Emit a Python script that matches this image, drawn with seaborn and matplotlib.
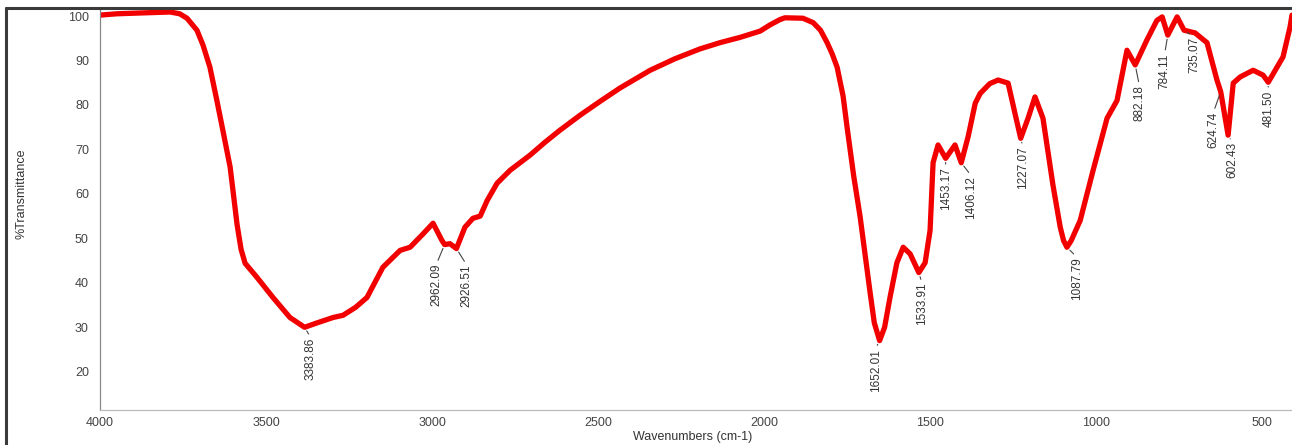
import matplotlib
matplotlib.use("Agg")
import matplotlib.pyplot as plt
import seaborn as sns
import pandas as pd
from matplotlib.lines import Line2D
from matplotlib.ticker import MultipleLocator

# FT-IR spectrum (wavenumber in cm-1, % transmittance)
wavenumber = [4000, 3949, 3870, 3789, 3760, 3738, 3708, 3690, 3669, 3648, 3630, 3608,
              3587, 3575, 3563, 3527, 3479, 3428, 3400, 3383.86, 3346, 3298, 3268, 3230,
              3196, 3148, 3096, 3066, 3027, 2997, 2970, 2962.09, 2946, 2926.51, 2901,
              2877, 2855, 2834, 2804, 2765, 2705, 2660, 2615, 2554, 2494, 2434, 2343,
              2268, 2193, 2133, 2072, 2012, 1982, 1952, 1937, 1883, 1852, 1830, 1810,
              1795, 1780, 1762, 1750, 1730, 1711, 1681, 1668, 1652.01, 1637, 1620,
              1600, 1581, 1560, 1533.91, 1515, 1500, 1491, 1476, 1453.17, 1425, 1406.12,
              1385, 1364, 1349, 1320, 1295, 1265, 1244, 1227.07, 1205, 1184, 1160,
              1130, 1108, 1098, 1087.79, 1075, 1048, 1009, 967, 937, 907, 882.18, 847,
              817, 801, 784.11, 756, 735.07, 702, 666, 636, 624.74, 602.43, 587, 566,
              527, 497, 481.50, 455, 437, 416, 410]
transmittance = [100.2, 100.5, 100.7, 100.9, 100.5, 99.5, 96.8, 93.5, 88.5, 81, 74.3, 66,
                 53, 47.5, 44.4, 41.2, 36.7, 32.2, 30.8, 30.0, 31, 32.2, 32.7, 34.5,
                 36.7, 43.5, 47.3, 48, 51, 53.4, 49.5, 48.6, 48.8, 47.7, 52.5,
                 54.5, 55, 58.5, 62.4, 65.3, 68.7, 71.6, 74.3, 77.7, 80.8, 83.8, 87.8,
                 90.4, 92.6, 94, 95.2, 96.6, 98, 99.2, 99.6, 99.5, 98.5, 96.8, 94,
                 91.5, 88.5, 82, 75, 64, 55, 38, 31, 27, 30, 37,
                 44.5, 48, 46.5, 42.3, 44.5, 51.8, 67, 71, 68, 71, 67,
                 73, 80.4, 82.6, 84.8, 85.6, 84.9, 78, 72.5, 77, 81.8, 77,
                 62, 52.5, 49.5, 48, 49.5, 54, 65.3, 77, 81, 92.3, 89, 94.6,
                 99, 99.8, 95.7, 99.8, 96.8, 96.2, 94, 85.6, 83, 73.2, 84.9, 86.3,
                 87.8, 86.7, 85.1, 88.5, 90.8, 97.5, 100.2]

# Labelled peaks
peak_labels = ["3383.86", "2962.09", "2926.51", "1652.01", "1533.91", "1453.17",
               "1406.12", "1227.07", "1087.79", "882.18", "784.11", "735.07",
               "624.74", "602.43", "481.50"]
# label placement (pixel offsets of the text from the peak)
label_dx = [6, -8, 10, -4, 3, 0, 10, 2, 10, 4, -3, 10, -7, 4, 0]
label_dy = [-10, -19, -16, -8, -10, -9, -13, -8, -10, -20, -18, -7, -20, -7, -8]

xticks = [4000, 3500, 3000, 2500, 2000, 1500, 1000, 500]
yticks = [20, 30, 40, 50, 60, 70, 80, 90, 100]

sns.set_style("white")
plt.rcParams["font.family"] = ["Liberation Sans", "DejaVu Sans"]

fig = plt.figure(figsize=(12.92, 4.45), dpi=100)
ax = fig.add_axes([100 / 1292, 35 / 445, 1192 / 1292, 400 / 445])

df = pd.DataFrame({"wn": wavenumber, "T": transmittance})
sns.lineplot(data=df, x="wn", y="T", sort=False, estimator=None, ax=ax,
             color="#f20000", linewidth=3.8, solid_joinstyle="round",
             solid_capstyle="round")

ax.set_xlim(4000, 410)
ax.set_ylim(11.4, 101.35)

ax.set_xticks(xticks)
ax.set_yticks(yticks)
ax.set_xticklabels([str(v) for v in xticks])
ax.set_yticklabels([str(v) for v in yticks])
ax.xaxis.set_minor_locator(MultipleLocator(100))
ax.yaxis.set_minor_locator(MultipleLocator(2))

ax.tick_params(axis="both", which="major", length=4, width=0.8, color="#777777",
               labelsize=9, labelcolor="#444444")
ax.tick_params(axis="both", which="minor", length=2, width=0.6, color="#999999")
ax.tick_params(axis="x", which="both", direction="inout", pad=3)
ax.tick_params(axis="y", which="both", direction="out", pad=4)

for side in ("top", "right"):
    ax.spines[side].set_visible(False)
ax.spines["left"].set_color("#888888")
ax.spines["bottom"].set_color("#bbbbbb")
ax.spines["left"].set_linewidth(0.9)
ax.spines["bottom"].set_linewidth(0.9)

ax.set_xlabel("Wavenumbers (cm-1)", fontsize=9, color="#333333")
ax.set_ylabel("%Transmittance", fontsize=9, color="#333333")
ax.xaxis.set_label_coords(0.497, -0.052)
ax.yaxis.set_label_coords(-0.0605, 0.54)

lookup = dict(zip(wavenumber, transmittance))
for lab, dx, dy in zip(peak_labels, label_dx, label_dy):
    wn = float(lab)
    t = lookup[wn]
    ax.annotate(lab, xy=(wn, t), xytext=(dx, dy), textcoords="offset pixels",
                rotation=90, ha="center", va="top", fontsize=8.5, color="#333333",
                arrowprops=dict(arrowstyle="-", color="#444444", lw=0.8,
                                shrinkA=0, shrinkB=3, relpos=(0.5, 1.0)))

# dark frame around the figure (left and top edges)
fig.add_artist(Line2D([6 / 1292, 6 / 1292], [0, 1 - 8 / 445], transform=fig.transFigure,
                      color="#3a3a3a", lw=2.2))
fig.add_artist(Line2D([6 / 1292, 1], [1 - 8 / 445, 1 - 8 / 445], transform=fig.transFigure,
                      color="#3a3a3a", lw=2.2))

fig.savefig("out.png", dpi=100)
